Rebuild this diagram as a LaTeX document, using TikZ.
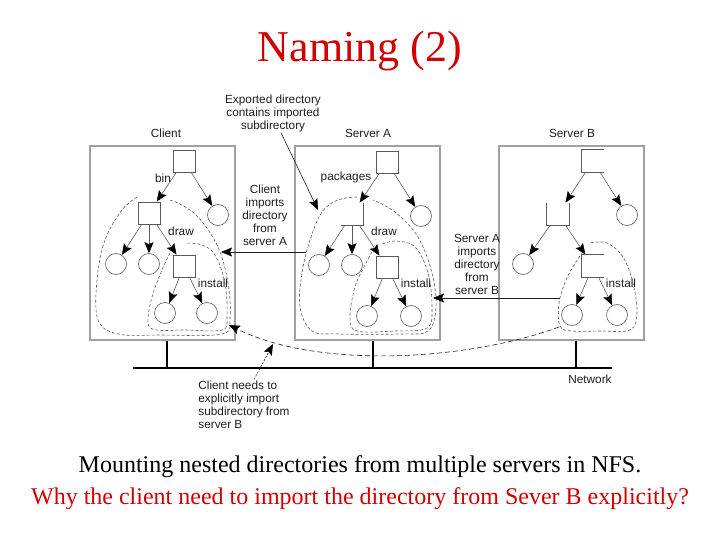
\documentclass[tikz,border=0pt]{standalone}
\usepackage{fontspec}
\setmainfont{Liberation Serif}
\newfontfamily\figfont{Liberation Sans}
\usetikzlibrary{positioning,arrows.meta}
\definecolor{nmred}{HTML}{D00000}
\definecolor{nmink}{HTML}{1E1E1E}
\definecolor{nmline}{HTML}{5A5A5A}
\definecolor{nmbox}{HTML}{A0A0A0}
\tikzset{
  dir/.style={draw=nmline,line width=0.7pt,minimum size=22pt,inner sep=0pt},
  opendir/.style={dir,draw=none},
  file/.style={circle,draw=nmline,line width=0.6pt,minimum size=21pt,inner sep=0pt},
  host/.style={draw=nmbox,line width=1.6pt,minimum width=145pt,minimum height=194pt,inner sep=0pt},
  lbl/.style={font=\figfont\fontsize{11.8}{13}\selectfont,text=nmink,align=center,inner sep=1pt},
  edge/.style={-{Stealth[length=11pt,width=9pt,inset=2pt,color=black]},draw=nmline,line width=0.6pt},
  mnt/.style={dash pattern=on 3pt off 2pt,draw=nmline,line width=0.6pt},
  note/.style={-{Stealth[length=11pt,width=9pt,inset=2pt,color=black]},draw=nmink,line width=0.6pt},
  lan/.style={line width=2.8pt,draw=black},
}
\begin{document}
\begin{tikzpicture}[x=1pt,y=-1pt,on grid]
  \useasboundingbox (0,0) rectangle (720,540);
  \node[font=\fontsize{44}{48}\selectfont,text=nmred] (title) at (360,51) {Naming (2)};

  % hosts and network
  \node[host] (client) at (162.5,243) {};
  \node[host] (srvA) at (367.5,243) {};
  \node[host] (srvB) at (571.5,243) {};
  \node[lbl] (clientL) at (166,133) {Client};
  \node[lbl] (srvAL) at (368,133) {Server A};
  \node[lbl] (srvBL) at (572,133) {Server B};
  \coordinate (lanW) at (133,368);
  \coordinate (lanE) at (612,368);
  \coordinate (cTap) at (167,368);
  \coordinate (aTap) at (373,368);
  \coordinate (bTap) at (576,368);
  \draw[lan] (lanW) -- (lanE);
  \draw[lan] (cTap |- client.south) -- (cTap);
  \draw[lan] (aTap |- srvA.south) -- (aTap);
  \draw[lan] (bTap |- srvB.south) -- (bTap);
  \node[lbl] (netL) at (590,379) {Network};

  % client tree
  \node[dir] (c-root) at (184,161) {};
  \node[dir,below left=52pt and 35pt of c-root] (c-mid) {};
  \node[file,below right=54pt and 34pt of c-root] (c-f1) {};
  \node[file,below left=51pt and 33pt of c-mid] (c-f2) {};
  \node[file,below=51pt of c-mid] (c-f3) {};
  \node[dir,below right=53pt and 35pt of c-mid] (c-low) {};
  \node[file,below left=47pt and 19pt of c-low] (c-f4) {};
  \node[file,below right=47pt and 23pt of c-low] (c-f5) {};
  \node[lbl] (c-binL) at (163,178) {bin};
  \node[lbl] (c-drawL) at (181,231) {draw};
  \node[lbl] (c-instL) at (213,283) {install};

  % server A tree
  \node[dir] (a-root) at (387,162) {};
  \node[opendir,below left=52pt and 35pt of a-root] (a-mid) {};
  \node[file,below right=54pt and 34pt of a-root] (a-f1) {};
  \node[file,below left=51pt and 33pt of a-mid] (a-f2) {};
  \node[file,below=51pt of a-mid] (a-f3) {};
  \node[dir,below right=53pt and 35pt of a-mid] (a-low) {};
  \node[file,below left=49pt and 20pt of a-low] (a-f4) {};
  \node[file,below right=49pt and 24pt of a-low] (a-f5) {};
  \draw[nmline,line width=0.7pt] (a-mid.north east) -- (a-mid.south east) -- (a-mid.south west);
  \node[lbl] (a-pkgL) at (346,177) {packages};
  \node[lbl] (a-drawL) at (384,231) {draw};
  \node[lbl] (a-instL) at (416,283) {install};

  % server B tree
  \node[opendir] (b-root) at (593,161) {};
  \node[opendir,below left=53pt and 35pt of b-root] (b-mid) {};
  \node[file,below right=54pt and 34pt of b-root] (b-f1) {};
  \node[file,below left=50pt and 35pt of b-mid] (b-f2) {};
  \node[opendir,below right=52pt and 35pt of b-mid] (b-low) {};
  \node[file,below left=49pt and 21pt of b-low] (b-f4) {};
  \node[file,below right=49pt and 24pt of b-low] (b-f5) {};
  \draw[nmline,line width=0.7pt] (b-root.north east) -- (b-root.north west) -- (b-root.south west) -- (b-root.south east);
  \draw[nmline,line width=0.7pt] (b-mid.north west) -- (b-mid.south west) -- (b-mid.south east) -- (b-mid.north east);
  \draw[nmline,line width=0.7pt] (b-low.north east) -- (b-low.north west) -- (b-low.south west) -- (b-low.south east);
  \node[lbl] (b-instL) at (621,283) {install};

  \foreach \s in {c,a} {
    \foreach \p/\q in {root/mid,root/f1,mid/f2,mid/f3,mid/low,low/f4,low/f5}
      \draw[edge] (\s-\p) -- (\s-\q);
  }
  \foreach \p/\q in {root/mid,root/f1,mid/f2,mid/low,low/f4,low/f5}
    \draw[edge] (b-\p) -- (b-\q);

  % mounted subtrees
  \draw[mnt] plot[smooth,tension=0.6] coordinates {(137,197) (122,210) (105,240) (97,280) (98,320) (118,334) (160,335) (222,334) (230,318) (228,283) (218,247) (198,217) (178,203) (168,200)};
  \draw[mnt] plot[smooth,tension=0.6] coordinates {(170,253) (162,270) (152,297) (148,323) (157,330) (185,330) (222,330) (227,317) (225,283) (215,255) (202,245) (185,243)};
  \draw[mnt] plot[smooth,tension=0.6] coordinates {(357,197) (338,200) (322,212) (310,240) (302,273) (300,307) (312,331) (340,334) (400,334) (428,331) (436,307) (432,273) (418,237) (395,212) (373,200)};
  \draw[mnt] plot[smooth,tension=0.6] coordinates {(372,252) (365,265) (355,287) (350,317) (357,331) (395,331) (427,328) (432,307) (428,273) (415,247) (395,241) (380,245)};
  \draw[mnt] plot[smooth,tension=0.6] coordinates {(583,252) (576,262) (566,280) (559,303) (560,326) (572,331) (600,331) (630,330) (637,313) (633,283) (623,257) (607,243) (590,243)};

  % annotations
  \node[lbl] (expL) at (273,113) {Exported directory\\contains imported\\subdirectory};
  \node[lbl] (cImpL) at (265,215) {Client\\imports\\directory\\from\\server A};
  \node[lbl] (aImpL) at (477,264) {Server A\\imports\\directory\\from\\server B};
  \node[lbl,align=left] (needL) at (244,404.5) {Client needs to\\explicitly import\\subdirectory from\\server B};
  \coordinate (aOutTip) at (318,210);
  \coordinate (aOutW) at (306,252);
  \coordinate (cOutE) at (221,252);
  \coordinate (bLoopW) at (560,298);
  \coordinate (aInE) at (433,298);
  \coordinate (bLoopSW) at (559,327);
  \coordinate (cInSE) at (229,325);
  \coordinate (curveHit) at (273,344);
  \draw[note] ([xshift=8pt]expL.south) -- (aOutTip);
  \draw[note] (aOutW) -- (cOutE);
  \draw[note] (bLoopW) -- (aInE);
  \draw[note,dash pattern=on 5pt off 3pt] (bLoopSW) .. controls (470,360) and (320,370) .. (cInSE);
  \draw[note,dash pattern=on 2pt off 1.5pt] ([xshift=10pt]needL.north) -- (curveHit);

  % captions
  \node[font=\fontsize{24}{26}\selectfont] (cap1) at (360,467) {Mounting nested directories from multiple servers in NFS.};
  \node[font=\fontsize{24}{26}\selectfont,text=nmred] (cap2) at (360,499) {Why the client need to import the directory from Sever B explicitly?};
\end{tikzpicture}
\end{document}
